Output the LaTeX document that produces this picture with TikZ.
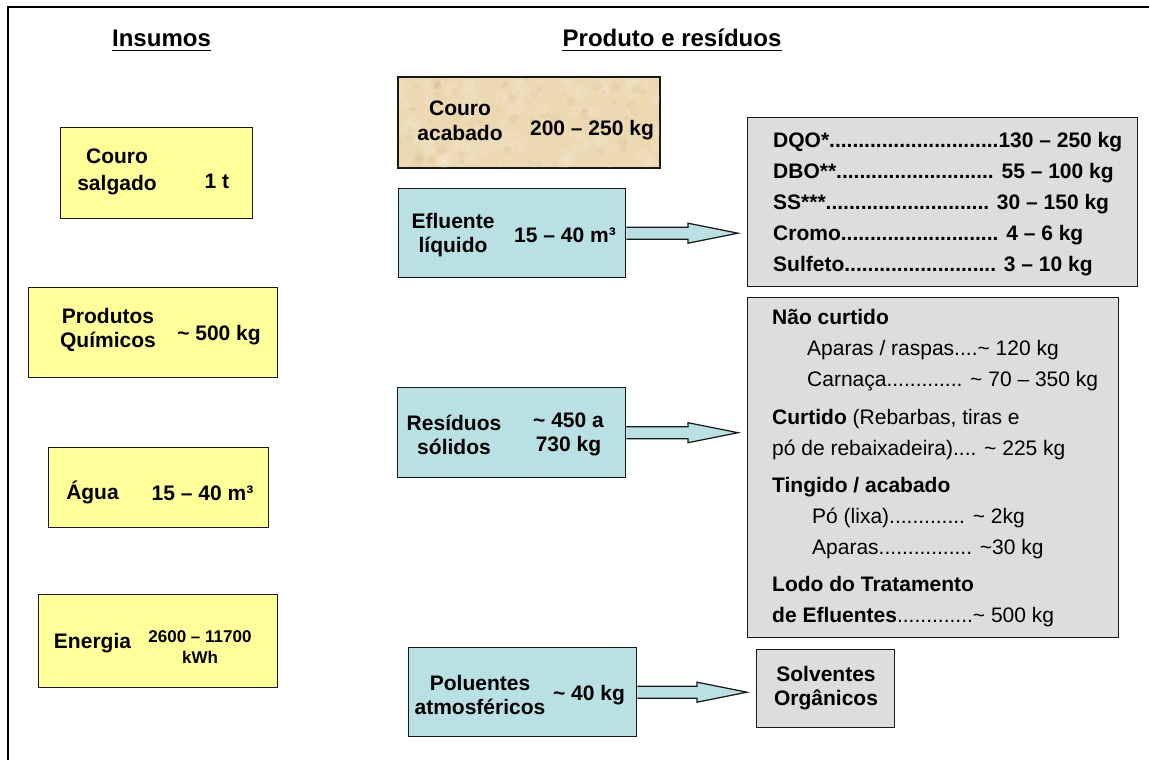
\documentclass[tikz,border=0pt]{standalone}
\usepackage{fontspec}
\setmainfont{Liberation Sans}
\usetikzlibrary{calc,backgrounds}
\definecolor{ylw}{HTML}{FFFF99}
\definecolor{tea}{HTML}{B9E0E2}
\definecolor{gry}{HTML}{DDDDDD}
\definecolor{bge}{HTML}{ECD9B2}
\newcommand\blkarrow[2]{%
  \draw[barrow] ($(#1.east)+(0,-6)$) -- ($(#1.east -| #2.west)+(-59,-6)$)
    -- ($(#1.east -| #2.west)+(-59,-10)$) -- ($(#1.east -| #2.west)+(-9,0)$)
    -- ($(#1.east -| #2.west)+(-59,10)$) -- ($(#1.east -| #2.west)+(-59,6)$)
    -- ($(#1.east)+(0,6)$);}
\begin{document}
\begin{tikzpicture}[x=1pt,y=-1pt,
  bx/.style={draw=black!90, line width=1.4pt, inner sep=0pt, anchor=north west},
  ybx/.style={bx, fill=ylw},
  tbx/.style={bx, fill=tea},
  gbx/.style={bx, fill=gry},
  txt/.style={font=\bfseries\fontsize{21}{24.5}\selectfont, align=center, inner sep=0pt},
  stxt/.style={font=\bfseries\fontsize{17}{21}\selectfont, align=center, inner sep=0pt},
  ttl/.style={font=\bfseries\fontsize{24}{28}\selectfont, inner sep=0pt, anchor=base},
  lst/.style={font=\fontsize{21}{30.8}\selectfont, align=left, inner sep=0pt, anchor=north west},
  barrow/.style={draw=black!90, fill=tea, line width=1.2pt, line join=miter}]
\useasboundingbox (0,0) rectangle (1149,760);
\draw[line width=1.5pt] (8,760) -- (8,7) -- (1149,7);

% titles
\node[ttl] (ins) at (161.5,46.5) {Insumos};
\draw[line width=1.6pt] ($(ins.south west)+(0,3.5)$) -- ($(ins.south east)+(0,3.5)$);
\node[ttl] (prd) at (672,46.5) {Produto e resíduos};
\draw[line width=1.6pt] ($(prd.south west)+(0,3.5)$) -- ($(prd.south east)+(0,3.5)$);

% inputs
\node[ybx, minimum width=192pt, minimum height=91pt] (cs) at (60,127) {};
\node[txt, font=\bfseries\fontsize{21}{27}\selectfont] (cst) at (117,171.5) {Couro\\salgado};
\node[txt] (csv) at (217,181) {1 t};

\node[ybx, minimum width=249pt, minimum height=90pt] (pq) at (28,287) {};
\node[txt] (pqt) at (108,330) {Produtos\\Químicos};
\node[txt] (pqv) at (219,335) {\char`~\ 500 kg};

\node[ybx, minimum width=220pt, minimum height=80pt] (ag) at (48,447) {};
\node[txt] (agt) at (92.5,492) {Água};
\node[txt] (agv) at (202.5,493) {15 – 40 m³};

\node[ybx, minimum width=239pt, minimum height=93pt] (en) at (38,593.5) {};
\node[txt] (ent) at (92.5,643) {Energia};
\node[stxt] (env) at (200,647.5) {2600 – 11700\\kWh};

% products
\node[bx, fill=bge, minimum width=261pt, minimum height=90pt] (ca) at (398,77) {};
\begin{scope}
  \clip (ca.south west) rectangle (ca.north east);
  \pgfmathsetseed{7}
  \foreach \i in {1,...,120}{
    \pgfmathsetmacro\px{398+261*rnd}
    \pgfmathsetmacro\py{77+90*rnd}
    \pgfmathsetmacro\pr{2+6*rnd}
    \fill[white, opacity=0.10] (\px,\py) circle (\pr);
  }
  \foreach \i in {1,...,80}{
    \pgfmathsetmacro\px{398+261*rnd}
    \pgfmathsetmacro\py{77+90*rnd}
    \pgfmathsetmacro\pr{1.5+4*rnd}
    \fill[brown!70!black, opacity=0.05] (\px,\py) circle (\pr);
  }
\end{scope}
\draw[line width=1.4pt, black!90] (ca.south west) rectangle (ca.north east);
\node[txt] (cat) at (460,121) {Couro\\acabado};
\node[txt] (cav) at (592,130) {200 – 250 kg};

\node[tbx, minimum width=227pt, minimum height=89pt] (ef) at (398,188) {};
\node[txt] (eft) at (453,235) {Efluente\\líquido};
\node[txt] (efv) at (565,235) {15 – 40 m³};

\node[tbx, minimum width=228pt, minimum height=90pt] (rs) at (397,387) {};
\node[txt] (rst) at (454,435) {Resíduos\\sólidos};
\node[txt] (rsv) at (568.5,434.5) {\char`~\ 450 a\\730 kg};

\node[tbx, minimum width=228pt, minimum height=89pt] (pa) at (408,647) {};
\node[txt] (pat) at (480,695) {Poluentes\\atmosféricos};
\node[txt] (pav) at (589,695) {\char`~\ 40 kg};

% residue boxes
\node[gbx, minimum width=390pt, minimum height=169pt] (dq) at (747,117) {};
\node[lst, font=\bfseries\fontsize{21}{31}\selectfont] (dqt) at (773,132.5) {%
DQO*.............................130 – 250 kg\\
DBO**........................... 55 – 100 kg\\
SS***............................ 30 – 150 kg\\
Cromo........................... 4 – 6 kg\\
Sulfeto.......................... 3 – 10 kg};

\node[gbx, minimum width=371pt, minimum height=340pt] (sd) at (747,297) {};
\node[lst] (sdt) at (772,309.5) {%
\textbf{Não curtido}\\
\hspace*{35pt}Aparas / raspas....\char`~\ 120 kg\\
\hspace*{35pt}Carnaça............. \char`~\ 70 – 350 kg\\[7pt]
\textbf{Curtido} (Rebarbas, tiras e\\
pó de rebaixadeira).... \char`~\ 225 kg\\[7pt]
\textbf{Tingido / acabado}\\
\hspace*{40pt}Pó (lixa)............. \char`~\ 2kg\\
\hspace*{40pt}Aparas................ \char`~30 kg\\[6pt]
\textbf{Lodo do Tratamento}\\
\textbf{de Efluentes}.............\char`~\ 500 kg};

\node[gbx, minimum width=138pt, minimum height=78pt] (so) at (756,649) {};
\node[txt] (sot) at (826,688) {Solventes\\Orgânicos};

% arrows
\begin{scope}[on background layer]
\blkarrow{ef}{dq}
\blkarrow{rs}{sd}
\blkarrow{pa}{so}
\end{scope}
\end{tikzpicture}
\end{document}
